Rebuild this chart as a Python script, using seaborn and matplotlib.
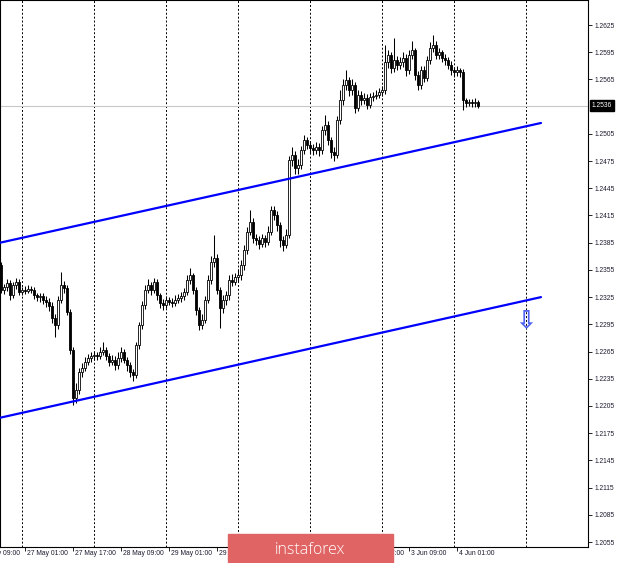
import numpy as np
import pandas as pd
import matplotlib
matplotlib.use('Agg')
import matplotlib.pyplot as plt
import matplotlib.transforms as mtransforms
from matplotlib.patches import Rectangle
import seaborn as sns

# H1 candles, first bar = 24 May 17:00
first_open = 1.2360
closes = [
    1.2333, 1.2336, 1.2341, 1.2327, 1.2338, 1.2342, 1.2331, 1.2333, 1.2332, 1.2334,
    1.2333, 1.2327, 1.2325, 1.2326, 1.2322, 1.2320, 1.2315, 1.2302, 1.2294, 1.2322,
    1.2338, 1.2335, 1.2309, 1.2267, 1.2214, 1.2223, 1.2242, 1.2247, 1.2254, 1.2258,
    1.2260, 1.2261, 1.2260, 1.2265, 1.2267, 1.2260, 1.2254, 1.2256, 1.2250, 1.2258,
    1.2265, 1.2256, 1.2250, 1.2242, 1.2239, 1.2272, 1.2294, 1.2316, 1.2333, 1.2338,
    1.2333, 1.2342, 1.2327, 1.2319, 1.2316, 1.2322, 1.2320, 1.2319, 1.2322, 1.2324,
    1.2326, 1.2331, 1.2344, 1.2349, 1.2333, 1.2311, 1.2294, 1.2300, 1.2322, 1.2344,
    1.2364, 1.2368, 1.2333, 1.2313, 1.2322, 1.2327, 1.2344, 1.2342, 1.2347, 1.2349,
    1.2360, 1.2377, 1.2397, 1.2408, 1.2390, 1.2388, 1.2384, 1.2390, 1.2386, 1.2397,
    1.2421, 1.2416, 1.2405, 1.2388, 1.2383, 1.2394, 1.2476, 1.2482, 1.2467, 1.2471,
    1.2487, 1.2498, 1.2493, 1.2489, 1.2487, 1.2491, 1.2487, 1.2509, 1.2515, 1.2498,
    1.2485, 1.2482, 1.2520, 1.2542, 1.2559, 1.2564, 1.2553, 1.2559, 1.2534, 1.2548,
    1.2542, 1.2545, 1.2537, 1.2546, 1.2547, 1.2548, 1.2551, 1.2553, 1.2584, 1.2592,
    1.2578, 1.2586, 1.2581, 1.2584, 1.2589, 1.2575, 1.2592, 1.2597, 1.2570, 1.2559,
    1.2575, 1.2567, 1.2586, 1.2600, 1.2603, 1.2592, 1.2595, 1.2589, 1.2586, 1.2581,
    1.2575, 1.2573, 1.2575, 1.2573, 1.2542, 1.2539, 1.2540, 1.2539, 1.2540, 1.2536,
]
highs = [
    1.2364, 1.2340, 1.2345, 1.2344, 1.2342, 1.2346, 1.2345, 1.2336, 1.2337, 1.2338,
    1.2337, 1.2336, 1.2330, 1.2330, 1.2329, 1.2326, 1.2324, 1.2320, 1.2306, 1.2326,
    1.2353, 1.2343, 1.2338, 1.2312, 1.2270, 1.2230, 1.2247, 1.2252, 1.2259, 1.2262,
    1.2264, 1.2265, 1.2265, 1.2270, 1.2275, 1.2270, 1.2263, 1.2261, 1.2260, 1.2264,
    1.2270, 1.2268, 1.2259, 1.2253, 1.2246, 1.2276, 1.2298, 1.2321, 1.2338, 1.2345,
    1.2342, 1.2346, 1.2345, 1.2330, 1.2323, 1.2326, 1.2325, 1.2324, 1.2327, 1.2328,
    1.2331, 1.2335, 1.2349, 1.2357, 1.2352, 1.2336, 1.2314, 1.2306, 1.2326, 1.2349,
    1.2370, 1.2394, 1.2372, 1.2336, 1.2327, 1.2332, 1.2349, 1.2350, 1.2352, 1.2356,
    1.2366, 1.2382, 1.2402, 1.2421, 1.2412, 1.2395, 1.2392, 1.2395, 1.2394, 1.2403,
    1.2426, 1.2426, 1.2420, 1.2408, 1.2392, 1.2400, 1.2481, 1.2490, 1.2486, 1.2477,
    1.2492, 1.2504, 1.2502, 1.2497, 1.2494, 1.2496, 1.2495, 1.2514, 1.2526, 1.2519,
    1.2502, 1.2490, 1.2525, 1.2553, 1.2565, 1.2575, 1.2568, 1.2565, 1.2562, 1.2553,
    1.2552, 1.2550, 1.2549, 1.2550, 1.2551, 1.2553, 1.2556, 1.2558, 1.2603, 1.2598,
    1.2595, 1.2611, 1.2591, 1.2590, 1.2595, 1.2593, 1.2598, 1.2607, 1.2600, 1.2574,
    1.2580, 1.2580, 1.2591, 1.2606, 1.2614, 1.2607, 1.2600, 1.2598, 1.2593, 1.2590,
    1.2585, 1.2579, 1.2580, 1.2578, 1.2577, 1.2544, 1.2543, 1.2543, 1.2544, 1.2542,
]
lows = [
    1.2329, 1.2328, 1.2332, 1.2322, 1.2324, 1.2334, 1.2327, 1.2327, 1.2328, 1.2329,
    1.2329, 1.2323, 1.2321, 1.2320, 1.2317, 1.2314, 1.2310, 1.2297, 1.2281, 1.2290,
    1.2318, 1.2330, 1.2305, 1.2262, 1.2206, 1.2208, 1.2218, 1.2237, 1.2243, 1.2250,
    1.2254, 1.2256, 1.2256, 1.2257, 1.2261, 1.2256, 1.2249, 1.2250, 1.2245, 1.2246,
    1.2254, 1.2252, 1.2244, 1.2237, 1.2233, 1.2236, 1.2268, 1.2290, 1.2312, 1.2329,
    1.2327, 1.2329, 1.2322, 1.2313, 1.2311, 1.2313, 1.2316, 1.2314, 1.2315, 1.2318,
    1.2320, 1.2322, 1.2327, 1.2340, 1.2328, 1.2305, 1.2289, 1.2290, 1.2296, 1.2318,
    1.2340, 1.2358, 1.2328, 1.2291, 1.2307, 1.2316, 1.2322, 1.2337, 1.2338, 1.2342,
    1.2344, 1.2355, 1.2372, 1.2393, 1.2385, 1.2382, 1.2378, 1.2380, 1.2380, 1.2382,
    1.2393, 1.2410, 1.2398, 1.2380, 1.2376, 1.2379, 1.2390, 1.2470, 1.2461, 1.2461,
    1.2466, 1.2483, 1.2488, 1.2484, 1.2482, 1.2483, 1.2481, 1.2483, 1.2504, 1.2493,
    1.2478, 1.2475, 1.2478, 1.2516, 1.2537, 1.2553, 1.2547, 1.2548, 1.2528, 1.2530,
    1.2537, 1.2538, 1.2532, 1.2533, 1.2541, 1.2543, 1.2544, 1.2547, 1.2549, 1.2578,
    1.2572, 1.2573, 1.2575, 1.2576, 1.2579, 1.2569, 1.2571, 1.2587, 1.2564, 1.2553,
    1.2555, 1.2562, 1.2563, 1.2582, 1.2595, 1.2587, 1.2588, 1.2584, 1.2581, 1.2576,
    1.2570, 1.2568, 1.2569, 1.2568, 1.2531, 1.2535, 1.2536, 1.2535, 1.2535, 1.2534,
]

# channel trendlines: (bar index, price) anchors
upper_x = [-0.33, 180]
upper_y = [1.2385, 1.2517]
lower_x = [-0.33, 180]
lower_y = [1.2192, 1.2325]

# down arrow marker
arrow_x = 175
arrow_y = 1.2300

y_ticks = [1.2055, 1.2085, 1.2115, 1.2145, 1.2175, 1.2205, 1.2235, 1.2265, 1.2295, 1.2325,
           1.2355, 1.2385, 1.2415, 1.2445, 1.2475, 1.2505, 1.2565, 1.2595, 1.2625]

# time axis (forex hours, weekends skipped); position 0 = first candle
times = pd.date_range('2019-05-24 09:00', '2019-06-05 23:00', freq='h')
times = times[times.dayofweek < 5]
positions = np.arange(len(times)) - 8

opens = [first_open] + closes[:-1]
n = len(closes)
xs = np.arange(n)

sns.set_style('white')
plt.rcParams['font.family'] = ['Liberation Sans', 'DejaVu Sans']

fig = plt.figure(figsize=(6.2, 5.63), dpi=100)
ax = fig.add_axes([0, 16 / 563, 588 / 620, 547 / 563])

# day separators
for p, t in zip(positions, times):
    if t.hour == 0 and p < 196:
        ax.axvline(p, color='black', lw=0.7, ls=(0, (2, 2)), zorder=1)

# current price line
ax.axhline(closes[-1], color='#c8c8c8', lw=0.8, zorder=1)

# candles
ax.vlines(xs, lows, highs, color='black', lw=0.75, zorder=2)
body_colors = ['white' if c >= o else 'black' for o, c in zip(opens, closes)]
body_h = [c - o if c != o else 0.00004 for o, c in zip(opens, closes)]
ax.bar(xs, body_h, bottom=opens, width=0.75, color=body_colors,
       edgecolor='black', linewidth=0.6, zorder=3)

# channel
chan = pd.DataFrame({'x': upper_x + lower_x, 'y': upper_y + lower_y,
                     'line': ['upper', 'upper', 'lower', 'lower']})
sns.lineplot(data=chan, x='x', y='y', units='line', estimator=None,
             color='#0000ff', lw=1.6, ax=ax, zorder=4)

ax.text(arrow_x, arrow_y, '\u21e9', color='#4f62f0', fontsize=18, ha='center',
        va='center', family='DejaVu Sans', fontweight='bold', zorder=5)

ax.set_xlim(-1 / 3, 195.67)
ax.set_ylim(1.20495, 1.26526)
ax.set_xlabel('')
ax.set_ylabel('')

# y axis on the right
ax.yaxis.tick_right()
ax.set_yticks(y_ticks)
ax.set_yticklabels([f'{v:.4f}' for v in y_ticks])
ax.tick_params(axis='y', labelsize=4.8, pad=1.5, length=3, width=0.6,
               colors='black', labelcolor='#1c1c30', direction='out', right=True)

# x axis: a label every 16 bars, only where there is data
lab_pos = [p for p in positions if (p - 8) % 16 == 0 and p <= n - 1]
lab_txt = [times[list(positions).index(p)] for p in lab_pos]
vis = [p for p in lab_pos if p >= 0]
ax.set_xticks(vis)
ax.set_xticklabels([])
ax.tick_params(axis='x', length=3, width=0.6, colors='black', direction='out', bottom=True)
trans = mtransforms.blended_transform_factory(ax.transData, ax.transAxes)
for p, t in zip(lab_pos, lab_txt):
    ax.text(p + 0.8, -0.005, f'{t.day} {t:%b} {t:%H:%M}', transform=trans,
            ha='left', va='top', fontsize=4.9, color='#1c1c30', clip_on=False)

# current price tag
trans_y = mtransforms.blended_transform_factory(ax.transAxes, ax.transData)
ax.text(1.0 + 4 / 588, closes[-1], f'{closes[-1]:.4f}', transform=trans_y,
        ha='left', va='center', fontsize=4.8, color='white', clip_on=False,
        bbox=dict(boxstyle='square,pad=0.3', fc='black', ec='black'))

for s in ax.spines.values():
    s.set_color('black')
    s.set_linewidth(0.8)
    s.set_visible(True)

# watermark
fig.patches.append(Rectangle((228 / 620, 0), 165 / 620, 29 / 563,
                             transform=fig.transFigure, color='#e06464', zorder=10))
fig.text(310 / 620, 13 / 563, 'instaforex', color='white', fontsize=11.5,
         ha='center', va='center', family=['Open Sans', 'DejaVu Sans'],
         fontweight='light', zorder=11)

fig.savefig('out.png', dpi=100, facecolor='white')
